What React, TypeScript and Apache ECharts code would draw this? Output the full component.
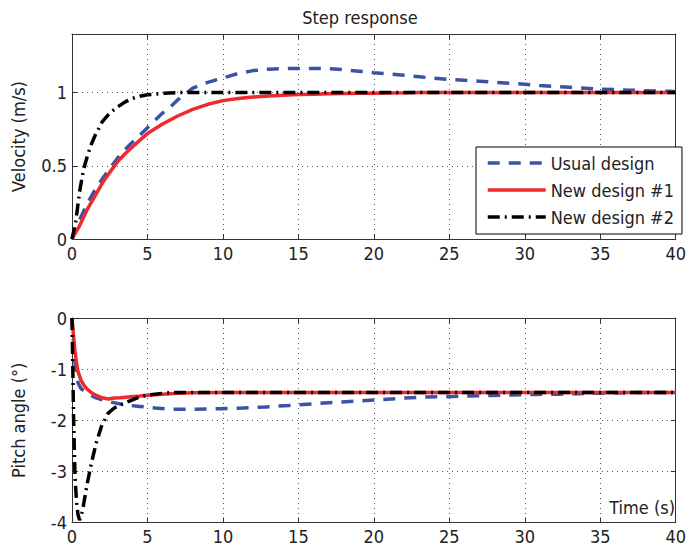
import React, { useEffect, useRef } from "react";
import * as echarts from "echarts";

// ---------- Data ----------
const xTicks = [0, 5, 10, 15, 20, 25, 30, 35, 40];

// Top: velocity (m/s)
const velUsualT = [0, 0.5, 1, 1.5, 2, 2.5, 3, 3.5, 4, 4.5, 5, 5.5, 6, 6.5, 7, 7.5, 8, 9, 10, 11, 12, 13, 14, 15, 16, 17, 18, 19, 20, 21, 22, 23, 24, 25, 26, 27, 28, 29, 30, 31, 32, 33, 34, 35, 36, 37, 38, 39, 40];
const velUsualV = [0, 0.13, 0.24, 0.33, 0.41, 0.48, 0.55, 0.61, 0.66, 0.71, 0.76, 0.81, 0.86, 0.9, 0.95, 0.99, 1.03, 1.07, 1.1, 1.13, 1.15, 1.16, 1.163, 1.165, 1.165, 1.163, 1.156, 1.146, 1.136, 1.127, 1.118, 1.108, 1.098, 1.09, 1.084, 1.078, 1.07, 1.063, 1.057, 1.048, 1.042, 1.036, 1.03, 1.024, 1.02, 1.016, 1.013, 1.01, 1.008];

const velNew1T = [0, 0.5, 1, 1.5, 2, 2.5, 3, 3.5, 4, 4.5, 5, 6, 7, 8, 9, 10, 11, 12, 13, 14, 15, 16, 17, 18, 19, 20, 21, 22, 23, 40];
const velNew1V = [0, 0.09, 0.2, 0.29, 0.38, 0.455, 0.525, 0.58, 0.628, 0.675, 0.72, 0.785, 0.84, 0.885, 0.92, 0.945, 0.96, 0.97, 0.977, 0.982, 0.986, 0.989, 0.992, 0.994, 0.995, 0.996, 0.997, 0.998, 1.0, 1.0];

const velNew2T = [0, 0.25, 0.5, 0.75, 1, 1.25, 1.5, 2, 2.5, 3, 3.5, 4, 4.5, 5, 6, 7, 40];
const velNew2V = [0, 0.12, 0.32, 0.47, 0.56, 0.64, 0.7, 0.8, 0.86, 0.9, 0.935, 0.96, 0.975, 0.985, 0.995, 1.0, 1.0];

// Bottom: pitch angle (deg)
const pitUsualT = [0, 0.1, 0.2, 0.4, 0.6, 0.85, 1.2, 1.5, 2, 2.4, 3, 3.5, 4.5, 5.5, 6.7, 8.2, 9.8, 11.3, 12.8, 14.4, 15.9, 17.3, 18.8, 20.3, 21.8, 23.3, 24.9, 26.2, 27.8, 29.3, 30.8, 32.2, 33.5, 35, 37, 40];
const pitUsualV = [0, -0.5, -0.88, -1.27, -1.38, -1.44, -1.5, -1.55, -1.6, -1.635, -1.67, -1.7, -1.73, -1.76, -1.785, -1.785, -1.775, -1.76, -1.74, -1.71, -1.68, -1.65, -1.625, -1.6, -1.57, -1.545, -1.54, -1.525, -1.515, -1.505, -1.495, -1.49, -1.48, -1.47, -1.46, -1.455];

const pitNew1T = [0, 0.1, 0.2, 0.3, 0.4, 0.6, 0.8, 1, 1.25, 1.5, 2, 2.4, 2.8, 3.2, 3.7, 4.5, 5, 6, 7, 8, 10, 40];
const pitNew1V = [0, -0.35, -0.65, -0.88, -1.05, -1.22, -1.32, -1.39, -1.45, -1.5, -1.56, -1.585, -1.565, -1.56, -1.545, -1.525, -1.51, -1.49, -1.47, -1.46, -1.455, -1.455];

const pitNew2T = [0, 0.05, 0.1, 0.2, 0.3, 0.4, 0.5, 0.6, 0.75, 1, 1.3, 1.6, 1.95, 2.4, 2.8, 3.5, 4.5, 5.2, 6.1, 7, 40];
const pitNew2V = [0, -0.9, -1.9, -3.1, -3.6, -3.85, -3.95, -3.9, -3.68, -3.25, -2.82, -2.45, -2.12, -1.86, -1.76, -1.66, -1.54, -1.5, -1.47, -1.455, -1.455];

const seriesNames = ["Usual design", "New design #1", "New design #2"];

const zip = (t: number[], v: number[]) => t.map((x, i) => [x, v[i]]);

const FONT = "'Liberation Sans Narrow', 'Arial Narrow', 'DejaVu Sans Condensed', sans-serif";
const AXIS_COLOR = "#333";

const styles = [
  { color: "#3b53a4", width: 3.5, type: [12, 9] as any },
  { color: "#ee2a2f", width: 3.5, type: "solid" as any },
  { color: "#000000", width: 3.5, type: [12, 5, 2, 5] as any },
];

function makeX(gridIndex: number, mirror: boolean) {
  return {
    type: "value",
    gridIndex,
    min: 0,
    max: 40,
    interval: 5,
    position: mirror ? "top" : "bottom",
    axisLine: { show: true, onZero: false, lineStyle: { color: AXIS_COLOR, width: 1 } },
    axisTick: { show: true, inside: true, length: 5, lineStyle: { color: AXIS_COLOR } },
    axisLabel: mirror
      ? { show: false }
      : { show: true, fontSize: 18, fontFamily: FONT, color: "#222", margin: 5 },
    splitLine: mirror
      ? { show: false }
      : { show: true, lineStyle: { type: [1, 4], color: "#555", width: 1 } },
  };
}

function makeY(gridIndex: number, mirror: boolean, min: number, max: number, interval: number) {
  return {
    type: "value",
    gridIndex,
    min,
    max,
    interval,
    position: mirror ? "right" : "left",
    axisLine: { show: true, onZero: false, lineStyle: { color: AXIS_COLOR, width: 1 } },
    axisTick: { show: true, inside: true, length: 5, lineStyle: { color: AXIS_COLOR } },
    axisLabel: mirror
      ? { show: false }
      : { show: true, fontSize: 18, fontFamily: FONT, color: "#222", margin: 5, showMaxLabel: max === 0 ? true : false },
    splitLine: mirror
      ? { show: false }
      : { show: true, lineStyle: { type: [1, 4], color: "#555", width: 1 } },
  };
}

export default function App() {
  const ref = useRef<HTMLDivElement>(null);

  useEffect(() => {
    if (!ref.current) return;
    const chart = echarts.init(ref.current, null, { renderer: "svg" });

    const topData = [zip(velUsualT, velUsualV), zip(velNew1T, velNew1V), zip(velNew2T, velNew2V)];
    const botData = [zip(pitUsualT, pitUsualV), zip(pitNew1T, pitNew1V), zip(pitNew2T, pitNew2V)];

    const series: any[] = [];
    [topData, botData].forEach((set, g) => {
      set.forEach((d, i) => {
        series.push({
          type: "line",
          name: seriesNames[i],
          xAxisIndex: g * 2,
          yAxisIndex: g * 2,
          data: d,
          showSymbol: false,
          symbol: "none",
          smooth: false,
          clip: true,
          lineStyle: { color: styles[i].color, width: styles[i].width, type: styles[i].type },
          itemStyle: { color: styles[i].color },
          z: 2 + i,
        });
      });
    });

    const yNameStyle = {
      nameLocation: "middle",
      nameRotate: 90,
      nameGap: 45,
      nameTextStyle: { fontSize: 18, fontFamily: FONT, color: "#222" },
    };

    const y0 = { ...makeY(0, false, 0, 1.4, 0.5), name: "Velocity (m/s)", ...yNameStyle };
    const y2 = { ...makeY(1, false, -4, 0, 1), name: "Pitch angle (°)", ...yNameStyle };

    chart.setOption({
      animation: false,
      backgroundColor: "#ffffff",
      grid: [
        { left: 72, top: 34, width: 612, height: 205, containLabel: false },
        { left: 72, top: 318, width: 612, height: 204.5, containLabel: false },
      ],
      xAxis: [makeX(0, false), makeX(0, true), makeX(1, false), makeX(1, true)],
      yAxis: [y0, makeY(0, true, 0, 1.4, 0.5), y2, makeY(1, true, -4, 0, 1)],
      legend: {
        data: seriesNames,
        orient: "vertical",
        left: 476,
        top: 147,
        itemWidth: 58,
        itemHeight: 18,
        itemGap: 9,
        padding: [7, 8, 8, 10],
        borderColor: "#000",
        borderWidth: 1,
        backgroundColor: "#fff",
        itemStyle: { color: "rgba(0,0,0,0)", borderWidth: 0, opacity: 0 },
        lineStyle: { width: 3.5 },
        textStyle: { fontSize: 18, fontFamily: FONT, color: "#222" },
        selectedMode: false,
      },
      graphic: [
        {
          type: "text",
          x: 360,
          y: 17,
          style: { text: "Step response", fontSize: 18, fontFamily: FONT, fill: "#222", align: "center", verticalAlign: "middle" },
        },
        {
          type: "text",
          x: 675,
          y: 507,
          z: 10,
          style: { text: "Time (s)", fontSize: 18, fontFamily: FONT, fill: "#222", align: "right", verticalAlign: "middle" },
        },
      ],
      series,
    });

    return () => chart.dispose();
  }, []);

  return (
    <div
      ref={ref}
      style={{ position: "fixed", left: 0, top: 0, width: 689, height: 549, background: "#fff" }}
    />
  );
}
